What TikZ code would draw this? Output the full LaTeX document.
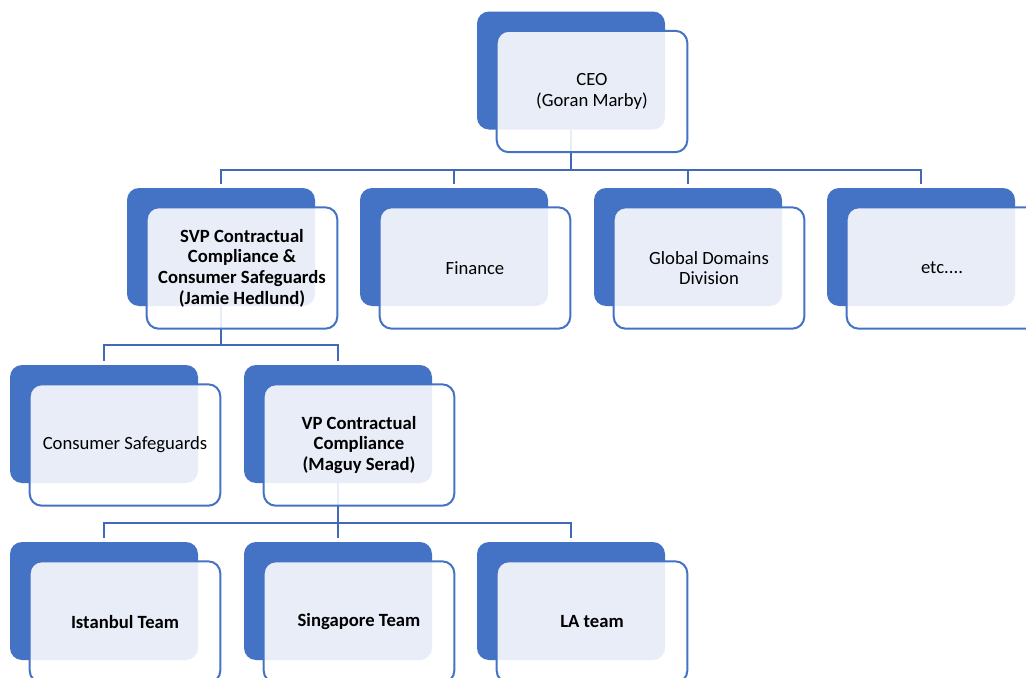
\documentclass[tikz,border=0pt]{standalone}
\usepackage{fontspec}
\setmainfont{Carlito}
\definecolor{orgblue}{HTML}{4472C4}
\definecolor{linkblue}{HTML}{4169B6}
\begin{document}
\begin{tikzpicture}[x=0.75pt,y=-0.75pt]

    \tikzset{
      back/.style={
        fill=orgblue,
        rounded corners=9pt,
        inner sep=0pt,
        minimum width=141pt,
        minimum height=88.5pt,
      },
      front/.style={
        draw=orgblue,
        line width=1.5pt,
        fill=white,
        fill opacity=0.88,
        text opacity=1,
        rounded corners=9pt,
        inner sep=0pt,
        minimum width=143pt,
        minimum height=91pt,
        align=center,
        font=\fontsize{14}{15.5}\selectfont,
      },
      lead/.style={
        front,
        font=\fontsize{14}{15.5}\selectfont\bfseries,
      },
      link/.style={
        draw=linkblue,
        line width=1.6pt,
        shorten >=2.5pt,
      },
    }
    \useasboundingbox (0,0) rectangle (1026,678);
    \clip (0,0) rectangle (1026,678);

    % back plates
	\node[back] (ceoBack) at (571,70.5) {};
	\node[back] (svpBack) at (221,247) {};
	\node[back] (finBack) at (454,247) {};
	\node[back] (gddBack) at (688,247) {};
	\node[back] (etcBack) at (921,247) {};
	\node[back] (csgBack) at (104,424) {};
	\node[back] (vpBack) at (338,424) {};
	\node[back] (istBack) at (104,601) {};
	\node[back] (sgpBack) at (338,601) {};
	\node[back] (laBack) at (571,601) {};

    % connectors
	\foreach \c in {svpBack,finBack,gddBack,etcBack}
	  \draw[link] (ceoBack.south) -- ++(0,40) -| (\c.north);
	\foreach \c in {csgBack,vpBack}
	  \draw[link] (svpBack.south) -- ++(0,39) -| (\c.north);
	\foreach \c in {istBack,sgpBack,laBack}
	  \draw[link] (vpBack.south) -- ++(0,40) -| (\c.north);

    % front cards
	\node[front] (ceo) at ([shift={(21,21)}]ceoBack) {CEO\\(Goran Marby)};
	\node[lead] (svp) at ([shift={(21,21)}]svpBack) {SVP Contractual\\Compliance \&\\Consumer Safeguards\\(Jamie Hedlund)};
	\node[front] (fin) at ([shift={(21,21)}]finBack) {Finance};
	\node[front] (gdd) at ([shift={(21,21)}]gddBack) {Global Domains\\Division};
	\node[front] (etc) at ([shift={(21,21)}]etcBack) {etc....};
	\node[front] (csg) at ([shift={(21,21)}]csgBack) {Consumer Safeguards};
	\node[lead] (vp) at ([shift={(21,21)}]vpBack) {VP Contractual\\Compliance\\(Maguy Serad)};
	\node[lead] (ist) at ([shift={(21,21)}]istBack) {Istanbul Team};
	\node[lead] (sgp) at ([shift={(21,21)}]sgpBack) {Singapore Team};
	\node[lead] (la) at ([shift={(21,21)}]laBack) {LA team};

\end{tikzpicture}
\end{document}
